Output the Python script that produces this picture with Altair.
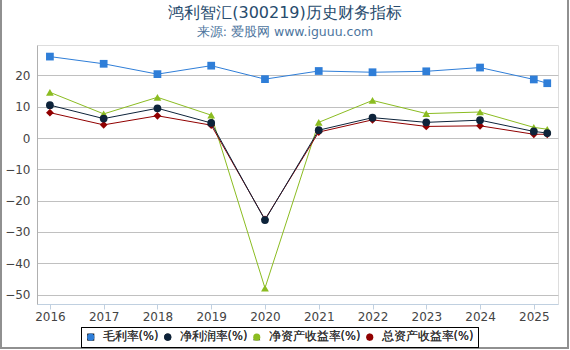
import altair as alt
import pandas as pd

years = [2016, 2017, 2018, 2019, 2020, 2021, 2022, 2023, 2024, 2025, 2025.25]
gross_margin = [26.0, 23.7, 20.4, 23.1, 18.8, 21.4, 21.0, 21.3, 22.5, 18.7, 17.5]
net_margin = [10.5, 6.2, 9.5, 4.8, -26.2, 2.5, 6.5, 5.0, 5.7, 2.1, 1.6]
roe = [14.6, 7.7, 13.0, 7.3, -47.9, 5.0, 12.0, 7.8, 8.3, 3.4, 2.8]
roa = [8.1, 4.2, 7.1, 4.1, -26.0, 1.9, 5.8, 3.7, 3.9, 1.2, 1.2]

series_names = ["毛利率(%)", "净利润率(%)", "净资产收益率(%)", "总资产收益率(%)"]
series_values = [gross_margin, net_margin, roe, roa]
colors = ["#2f7ed8", "#0d233a", "#8bbc21", "#910000"]
shapes = ["square", "circle", "triangle-up", "diamond"]
draw_order = [0, 2, 3, 1]
tick_years = [2016, 2017, 2018, 2019, 2020, 2021, 2022, 2023, 2024, 2025]
y_ticks = [-50, -40, -30, -20, -10, 0, 10, 20]
title_text = "鸿利智汇(300219)历史财务指标"
subtitle_text = "来源: 爱股网 www.iguuu.com"

rows = []
for i in draw_order:
    for yr, v in zip(years, series_values[i]):
        rows.append({"year": yr, "value": v, "series": series_names[i]})
df = pd.DataFrame(rows)

FONT = "DejaVu Sans"

x_enc = alt.X(
    "year:Q",
    scale=alt.Scale(domain=[2015.76, 2025.45], nice=False, zero=False),
    axis=alt.Axis(
        values=tick_years, format="d", title=None, grid=False,
        tickSize=5, tickColor="#C0D0E0", domainColor="#C0D0E0",
        labelColor="#444444", labelFontSize=12, labelFont=FONT, labelPadding=2,
        labelFlush=False,
    ),
)
y_enc = alt.Y(
    "value:Q",
    scale=alt.Scale(domain=[-53, 29.7], nice=False, zero=False),
    axis=alt.Axis(
        values=y_ticks, title=None, grid=True, gridColor="#C0C0C0",
        tickSize=0, domainColor="#B0B0B0", labelColor="#444444",
        labelFontSize=12, labelFont=FONT, labelPadding=7,
    ),
)

base = alt.Chart(df)

lines = base.mark_line(strokeWidth=1, clip=True).encode(
    x=x_enc, y=y_enc,
    stroke=alt.Stroke("series:N", scale=alt.Scale(domain=series_names, range=colors), legend=None),
    detail="series:N",
)

marker_leg = alt.Legend(
    title=None, orient="none", legendX=44, legendY=282, direction="horizontal",
    columns=4, padding=4, labelFontSize=11.5, labelFont=FONT, labelColor="#333333",
    columnPadding=3, labelOffset=6, cornerRadius=0, strokeColor="#000000",
    symbolSize=50, symbolStrokeWidth=1,
)
points = base.mark_point(filled=True, size=60, opacity=1, clip=True).encode(
    x=x_enc, y=y_enc,
    fill=alt.Fill("series:N", sort=series_names, scale=alt.Scale(range=colors), legend=marker_leg),
    shape=alt.Shape("series:N", sort=series_names, scale=alt.Scale(range=shapes), legend=marker_leg),
)

one = alt.Chart(pd.DataFrame({"k": [0]}))

frame = one.mark_rect(
    fillOpacity=0, stroke="#909090", strokeWidth=2, clip=False
).encode(
    x=alt.value(-36), x2=alt.value(531), y=alt.value(-47), y2=alt.value(303),
)

title_mark = one.mark_text(
    font=FONT, fontSize=16, color="#274b6d", align="center", baseline="middle", clip=False
).encode(x=alt.value(248), y=alt.value(-32.5), text=alt.value(title_text))

subtitle_mark = one.mark_text(
    font=FONT, fontSize=12.5, color="#4d759e", align="center", baseline="middle", clip=False
).encode(x=alt.value(248), y=alt.value(-13.5), text=alt.value(subtitle_text))

chart = alt.layer(
    lines, points, frame, title_mark, subtitle_mark
).properties(
    width=521, height=259,
    autosize=alt.AutoSizeParams(type="none"),
    padding={"left": 37, "top": 45, "right": 12, "bottom": 46},
).configure_view(strokeWidth=0).configure(background="white")

chart.save("out.html", embed_options={"renderer": "svg", "actions": False})
